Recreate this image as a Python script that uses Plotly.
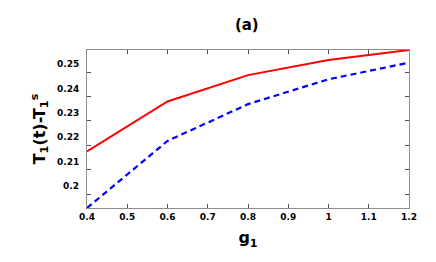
import plotly.graph_objects as go

g1 = [0.4, 0.6, 0.8, 1.0, 1.2]
red_vals = [0.2175, 0.2380, 0.2488, 0.2550, 0.2591]
blue_vals = [0.1943, 0.2218, 0.2369, 0.2471, 0.2539]
x_ticks = [0.4, 0.5, 0.6, 0.7, 0.8, 0.9, 1.0, 1.1, 1.2]
x_ticktext = ["0.4", "0.5", "0.6", "0.7", "0.8", "0.9", "1", "1.1", "1.2"]
y_ticks = [0.20, 0.21, 0.22, 0.23, 0.24, 0.25]
y_ticktext = ["0.2", "0.21", "0.22", "0.23", "0.24", "0.25"]

font_family = "DejaVu Sans"
y_lo, y_hi = 0.1943, 0.2591

fig = go.Figure()
fig.add_trace(go.Scatter(x=g1, y=red_vals, mode="lines",
                         line=dict(color="#ff0000", width=2), showlegend=False))
fig.add_trace(go.Scatter(x=g1, y=blue_vals, mode="lines",
                         line=dict(color="#0000ff", width=2.2, dash="6px,4px"),
                         showlegend=False))

tickfont = dict(family=font_family, size=9, color="black", weight="bold")
axis_common = dict(showgrid=False, zeroline=False, showline=True, mirror="allticks",
                   linecolor="#8c8c8c", linewidth=1, ticks="inside", ticklen=4,
                   tickcolor="#555555", tickwidth=1, tickfont=tickfont)

# the reference's y tick labels sit ~8px above their tick marks
for v, t in zip(y_ticks, y_ticktext):
    fig.add_annotation(x=0, xref="paper", y=v, yref="y", text=t, showarrow=False,
                       xanchor="right", yanchor="middle", xshift=-6, yshift=8,
                       font=tickfont)

# page body has an 8px margin, so the figure is drawn at (8, 8)
fig.update_layout(
    width=428, height=254,
    margin=dict(l=79, r=27, t=42, b=54),
    paper_bgcolor="white", plot_bgcolor="white",
    title=dict(text="<b>(a)</b>", x=0.558, xanchor="center", y=0.933, yanchor="middle",
               font=dict(family=font_family, size=15, color="black")),
    xaxis=dict(range=[0.4, 1.2], tickvals=x_ticks, ticktext=x_ticktext,
               title=dict(text="<b>g<sub>1</sub></b>", standoff=11,
                          font=dict(family=font_family, size=16, color="black")),
               **axis_common),
    yaxis=dict(range=[y_lo, y_hi], tickvals=y_ticks, showticklabels=False,
               title=dict(text="<b>T<sub>1</sub>(t)-T<sub>1</sub><sup>s</sup></b>", standoff=36,
                          font=dict(family=font_family, size=16, color="black")),
               **axis_common),
)

fig.write_html("out.html")
